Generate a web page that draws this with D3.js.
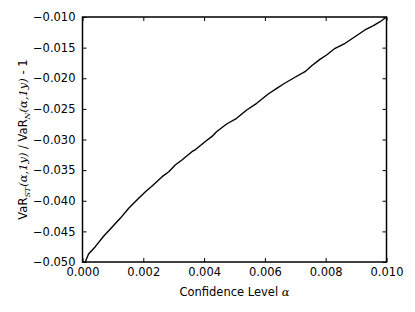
<!DOCTYPE html>
<html>
<head>
<meta charset="utf-8">
<script src="https://cdn.jsdelivr.net/npm/d3@7"></script>
<style>
  body { margin: 0; background: #fff; }
  text { font-family: "DejaVu Sans", sans-serif; }
</style>
</head>
<body>
<div id="chart-area"></div>
<script>
// confidence level alpha
const alphas = [0.00009, 0.0002, 0.00042, 0.0007, 0.00097, 0.00124, 0.00152, 0.00179, 0.00207,
  0.00229, 0.00262, 0.00284, 0.00305, 0.00327, 0.0036, 0.0037, 0.00403, 0.00425, 0.00441,
  0.00474, 0.00507, 0.0054, 0.00573, 0.00611, 0.00639, 0.00661, 0.00699, 0.00732, 0.00754,
  0.00781, 0.00803, 0.00831, 0.00864, 0.00896, 0.00929, 0.00957, 0.00979, 0.01];
// VaR_ST / VaR_N - 1
const ratios = [-0.0500, -0.0487, -0.0475, -0.04575, -0.04434, -0.04287, -0.04123, -0.03988, -0.03852,
  -0.03759, -0.03607, -0.03526, -0.03416, -0.03335, -0.03199, -0.03171, -0.03036, -0.02954, -0.02873,
  -0.02747, -0.02654, -0.02518, -0.02409, -0.02257, -0.02164, -0.02094, -0.01984, -0.01893, -0.01795,
  -0.01691, -0.0162, -0.01511, -0.01429, -0.01322, -0.01212, -0.01142, -0.01077, -0.0100];
const xTicks = [0, 0.002, 0.004, 0.006, 0.008, 0.010];
const yTicks = [-0.050, -0.045, -0.040, -0.035, -0.030, -0.025, -0.020, -0.015, -0.010];

const widthSvg = 415;
const heightSvg = 312;
const margin = { top: 17, right: 28.5, bottom: 50, left: 82.5 };
const widthChart = widthSvg - margin.left - margin.right;
const heightChart = heightSvg - margin.top - margin.bottom;

const data = alphas.map((a, i) => ({ a: a, r: ratios[i] }));

const scaleX = d3.scaleLinear().domain([0, 0.01]).range([0, widthChart]);
const scaleY = d3.scaleLinear().domain([-0.05, -0.01]).range([heightChart, 0]);

const fmt = v => d3.format('.3f')(v).replace('-', '\u2212');

const svg = d3.select('#chart-area').append('svg')
  .attr('width', widthSvg)
  .attr('height', heightSvg);

const chart = svg.append('g')
  .attr('transform', `translate(${margin.left}, ${margin.top})`);

const tickLen = 4;

// bottom axis with labels, ticks pointing in
const axisBottom = chart.append('g')
  .attr('transform', `translate(0, ${heightChart})`)
  .call(d3.axisBottom(scaleX).tickValues(xTicks).tickFormat(fmt).tickSizeInner(-tickLen).tickSizeOuter(0).tickPadding(6));
// top axis, ticks only
const axisTop = chart.append('g')
  .call(d3.axisTop(scaleX).tickValues(xTicks).tickFormat('').tickSizeInner(-tickLen).tickSizeOuter(0));
// left axis
const axisLeft = chart.append('g')
  .call(d3.axisLeft(scaleY).tickValues(yTicks).tickFormat(fmt).tickSizeInner(-tickLen).tickSizeOuter(0).tickPadding(7));
// right axis
const axisRight = chart.append('g')
  .attr('transform', `translate(${widthChart}, 0)`)
  .call(d3.axisRight(scaleY).tickValues(yTicks).tickFormat('').tickSizeInner(-tickLen).tickSizeOuter(0));

[axisBottom, axisTop, axisLeft, axisRight].forEach(g => {
  g.select('.domain').remove();
  g.selectAll('.tick line').attr('stroke', '#000').attr('stroke-width', 1);
  g.selectAll('.tick text').attr('font-size', 11.5).attr('fill', '#000')
    .style('font-family', '"DejaVu Sans", sans-serif');
});

// frame
chart.append('rect')
  .attr('width', widthChart)
  .attr('height', heightChart)
  .attr('fill', 'none')
  .attr('stroke', '#000')
  .attr('stroke-width', 1.5);

const line = d3.line()
  .x(d => scaleX(d.a))
  .y(d => scaleY(d.r));

chart.append('path')
  .datum(data)
  .attr('d', line)
  .attr('fill', 'none')
  .attr('stroke', '#000')
  .attr('stroke-width', 1.4)
  .attr('stroke-linejoin', 'round');

// x label
svg.append('text')
  .attr('x', margin.left + widthChart / 2)
  .attr('y', 296)
  .attr('text-anchor', 'middle')
  .attr('font-size', 11.5)
  .html('Confidence Level <tspan font-family="DejaVu Serif" font-style="italic">α</tspan>');

// y label
svg.append('text')
  .attr('transform', `translate(27, ${margin.top + heightChart / 2}) rotate(-90)`)
  .attr('text-anchor', 'middle')
  .attr('font-size', 11.5)
  .html('VaR<tspan font-size="8" dy="3" font-family="DejaVu Serif" font-style="italic">ST</tspan><tspan dy="-3" font-family="DejaVu Serif" font-style="italic">(α,1y)</tspan> / VaR<tspan font-size="8" dy="3" font-family="DejaVu Serif" font-style="italic">N</tspan><tspan dy="-3" font-family="DejaVu Serif" font-style="italic">(α,1y)</tspan> - 1');
</script>
</body>
</html>
